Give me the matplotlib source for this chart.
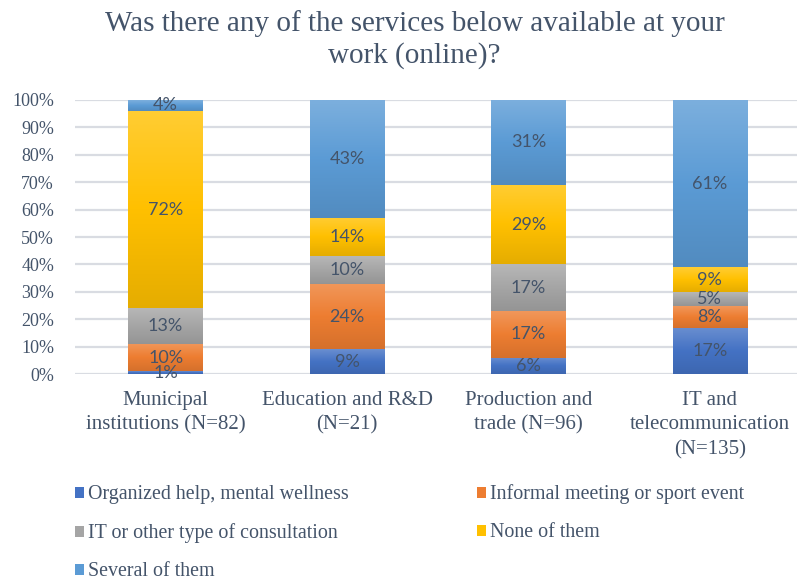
import matplotlib
matplotlib.use("Agg")
import matplotlib.pyplot as plt
import matplotlib.colors as mcolors
import numpy as np

# data (percent)
categories = ["Municipal\ninstitutions (N=82)", "Education and R&D\n(N=21)",
              "Production and\ntrade (N=96)", "IT and\ntelecommunication\n(N=135)"]
series_names = ["Organized help, mental wellness", "Informal meeting or sport event",
                "IT or other type of consultation", "None of them", "Several of them"]
organized = [1, 9, 6, 17]
informal = [10, 24, 17, 8]
consultation = [13, 10, 17, 5]
none_of_them = [72, 14, 29, 9]
several = [4, 43, 31, 61]
yticks = [0, 10, 20, 30, 40, 50, 60, 70, 80, 90, 100]

colors = ["#4472C4", "#ED7D31", "#A5A5A5", "#FFC000", "#5B9BD5"]
text_col = "#44546A"
serif = "Liberation Serif"


def shade(c, f):
    rgb = np.array(mcolors.to_rgb(c))
    if f > 0:
        return rgb + (1 - rgb) * f
    return rgb * (1 + f)


fig = plt.figure(figsize=(7.97, 5.81), dpi=100)
ax = fig.add_axes([0.094, 0.356, 0.906, 0.472])

x = np.arange(len(categories))
width = 0.41
bottom = np.zeros(len(categories))
handles = []
for vals, name, col in zip([organized, informal, consultation, none_of_them, several],
                           series_names, colors):
    bars = ax.bar(x, vals, width, bottom=bottom, color=col, label=name, zorder=2)
    handles.append(bars)
    cmap = mcolors.LinearSegmentedColormap.from_list(
        "g", [shade(col, -0.1), shade(col, 0.0), shade(col, 0.2)])
    grad = np.linspace(0, 1, 64).reshape(-1, 1)
    for rect, v, b in zip(bars, vals, bottom):
        rx, ry = rect.get_x(), rect.get_y()
        rw, rh = rect.get_width(), rect.get_height()
        ax.imshow(grad, cmap=cmap, origin="lower", aspect="auto",
                  extent=[rx, rx + rw, ry, ry + rh], zorder=2.5, interpolation="bilinear")
        ax.text(rx + rw / 2, b + v / 2, f"{v}%", ha="center", va="center",
                fontsize=13, color=text_col, family="Lato", zorder=3)
    bottom += np.array(vals)

ax.set_xlim(-0.5, 3.48)
ax.set_ylim(0, 100)
ax.set_yticks(yticks)
ax.set_yticklabels([f"{t}%" for t in yticks])
ax.set_xticks(x)
ax.set_xticklabels(categories)
ax.yaxis.grid(True, color="#D9DCE2", linewidth=1.6, zorder=0)
ax.set_axisbelow(True)
for s in ax.spines.values():
    s.set_visible(False)
ax.tick_params(axis="both", length=0, colors=text_col)
ax.tick_params(axis="y", pad=15, labelsize=13)
ax.tick_params(axis="x", pad=12, labelsize=15)
for lab in ax.get_xticklabels() + ax.get_yticklabels():
    lab.set_family(serif)
    lab.set_linespacing(1.4)

fig.text(0.52, 0.982, "Was there any of the services below available at your\nwork (online)?",
         ha="center", va="top", fontsize=21, color=text_col, family=serif, linespacing=1.24)

order = [0, 2, 4, 1, 3]
leg = fig.legend([handles[i] for i in order], [series_names[i] for i in order],
                 loc="upper left", bbox_to_anchor=(0.0945, 0.166), ncol=2, frameon=False,
                 prop={"family": serif, "size": 14.4}, handlelength=0.45, handleheight=0.45,
                 handletextpad=0.2, columnspacing=6.4, labelspacing=0.95,
                 borderaxespad=0, borderpad=0)
for t in leg.get_texts():
    t.set_color(text_col)

fig.savefig("out.png", dpi=100)
